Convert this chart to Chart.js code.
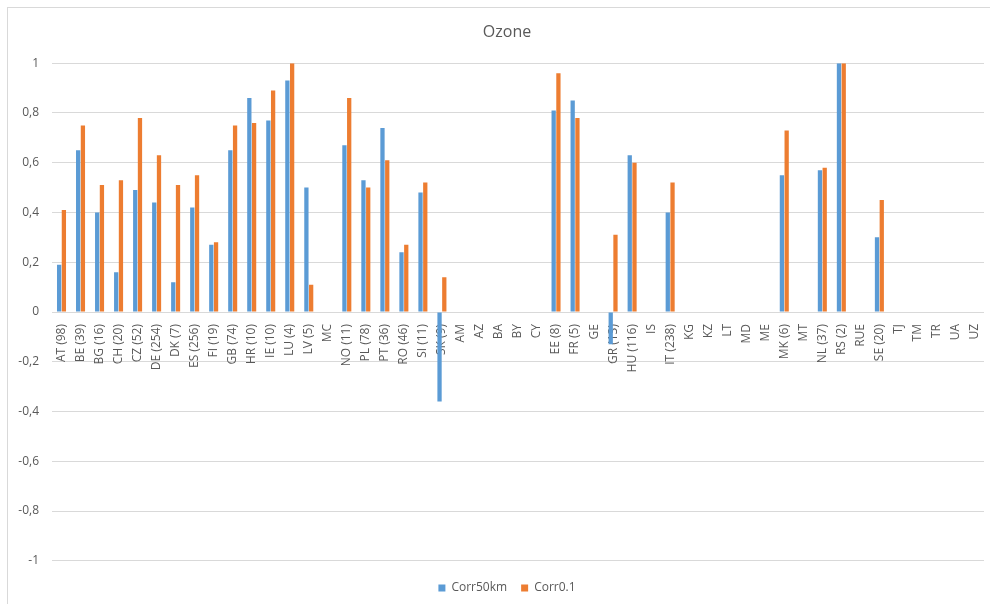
<!DOCTYPE html>
<html>
<head>
<meta charset="utf-8">
<script src="https://cdn.jsdelivr.net/npm/chart.js@4"></script>
<style>
  html, body { margin: 0; padding: 0; background: #fff; overflow: hidden; }
  #frame {
    position: absolute; left: 7px; top: 7px;
    width: 1010px; height: 596px;
    border-left: 1px solid #d9d9d9; border-top: 1px solid #d9d9d9;
    background: #fff;
  }
</style>
</head>
<body>
<div id="frame"><canvas id="chart"></canvas></div>
<script>
// Stations by country (number of stations in brackets)
const categories = [
  'AT (98)', 'BE (39)', 'BG (16)', 'CH (20)', 'CZ (52)', 'DE (254)', 'DK (7)', 'ES (256)',
  'FI (19)', 'GB (74)', 'HR (10)', 'IE (10)', 'LU (4)', 'LV (5)', 'MC', 'NO (11)',
  'PL (78)', 'PT (36)', 'RO (46)', 'SI (11)', 'SK (9)', 'AM', 'AZ', 'BA', 'BY', 'CY',
  'EE (8)', 'FR (5)', 'GE', 'GR (13)', 'HU (116)', 'IS', 'IT (238)', 'KG', 'KZ', 'LT',
  'MD', 'ME', 'MK (6)', 'MT', 'NL (37)', 'RS (2)', 'RUE', 'SE (20)', 'TJ', 'TM', 'TR',
  'UA', 'UZ'
];

// Correlation at 50 km resolution
const corr50km = [
  0.19, 0.65, 0.40, 0.16, 0.49, 0.44, 0.12, 0.42,
  0.27, 0.65, 0.86, 0.77, 0.93, 0.50, null, 0.67,
  0.53, 0.74, 0.24, 0.48, -0.36, null, null, null, null, null,
  0.81, 0.85, null, -0.13, 0.63, null, 0.40, null, null, null,
  null, null, 0.55, null, 0.57, 1.00, null, 0.30, null, null, null,
  null, null
];

// Correlation at 0.1 degree resolution
const corr01 = [
  0.41, 0.75, 0.51, 0.53, 0.78, 0.63, 0.51, 0.55,
  0.28, 0.75, 0.76, 0.89, 1.00, 0.11, null, 0.86,
  0.50, 0.61, 0.27, 0.52, 0.14, null, null, null, null, null,
  0.96, 0.78, null, 0.31, 0.60, null, 0.52, null, null, null,
  null, null, 0.73, null, 0.58, 1.00, null, 0.45, null, null, null,
  null, null
];

const seriesNames = ['Corr50km', 'Corr0.1'];
const yRange = [-1, 1];
const yStep = 0.2;

const textColor = '#595959';
const gridColor = '#d9d9d9';
const fontFamily = '"Open Sans", "Noto Sans", sans-serif';

// Decimal comma labels: 0,2 / -0,4 ...
function commaLabel(v) {
  const r = Math.round(v * 10) / 10;
  if (r === 0) return '0';
  return String(r).replace('.', ',');
}

new Chart(document.getElementById('chart'), {
  type: 'bar',
  data: {
    labels: categories,
    datasets: [
      { label: seriesNames[0], data: corr50km, backgroundColor: '#5B9BD5', borderWidth: 0 },
      { label: seriesNames[1], data: corr01, backgroundColor: '#ED7D31', borderWidth: 0 }
    ]
  },
  options: {
    responsive: true,
    maintainAspectRatio: false,
    animation: false,
    datasets: { bar: { categoryPercentage: 0.5, barPercentage: 0.9 } },
    layout: { padding: { left: 8, right: 20, top: 0, bottom: 0 } },
    plugins: {
      title: {
        display: true,
        text: 'Ozone',
        color: textColor,
        font: { family: fontFamily, size: 16, weight: 'normal' },
        padding: { top: 15, bottom: 21 }
      },
      legend: {
        position: 'bottom',
        title: {
          // empty title only adds a little space above the legend row
          display: true,
          text: '',
          font: { size: 1 },
          padding: { top: 6, bottom: 0 }
        },
        labels: {
          color: textColor,
          font: { family: fontFamily, size: 12 },
          boxWidth: 7,
          boxHeight: 7,
          padding: 14
        }
      },
      tooltip: { enabled: false }
    },
    scales: {
      x: {
        type: 'category',
        position: { y: 0 },
        grid: { display: false },
        border: { display: false },
        ticks: {
          autoSkip: false,
          minRotation: 90,
          maxRotation: 90,
          padding: 4,
          color: textColor,
          font: { family: fontFamily, size: 12 }
        }
      },
      y: {
        min: yRange[0],
        max: yRange[1],
        grid: { color: gridColor, lineWidth: 1, drawTicks: false },
        border: { display: false },
        ticks: {
          stepSize: yStep,
          padding: 13,
          color: textColor,
          font: { family: fontFamily, size: 12 },
          callback: (v) => commaLabel(v)
        },
        afterFit: (scale) => { scale.width = 36; }
      },
      // blank right-hand margin inside the frame
      yRight: {
        position: 'right',
        min: yRange[0],
        max: yRange[1],
        grid: { display: false },
        border: { display: false },
        ticks: { display: false },
        afterFit: (scale) => { scale.width = 14; }
      }
    }
  }
});
</script>
</body>
</html>
